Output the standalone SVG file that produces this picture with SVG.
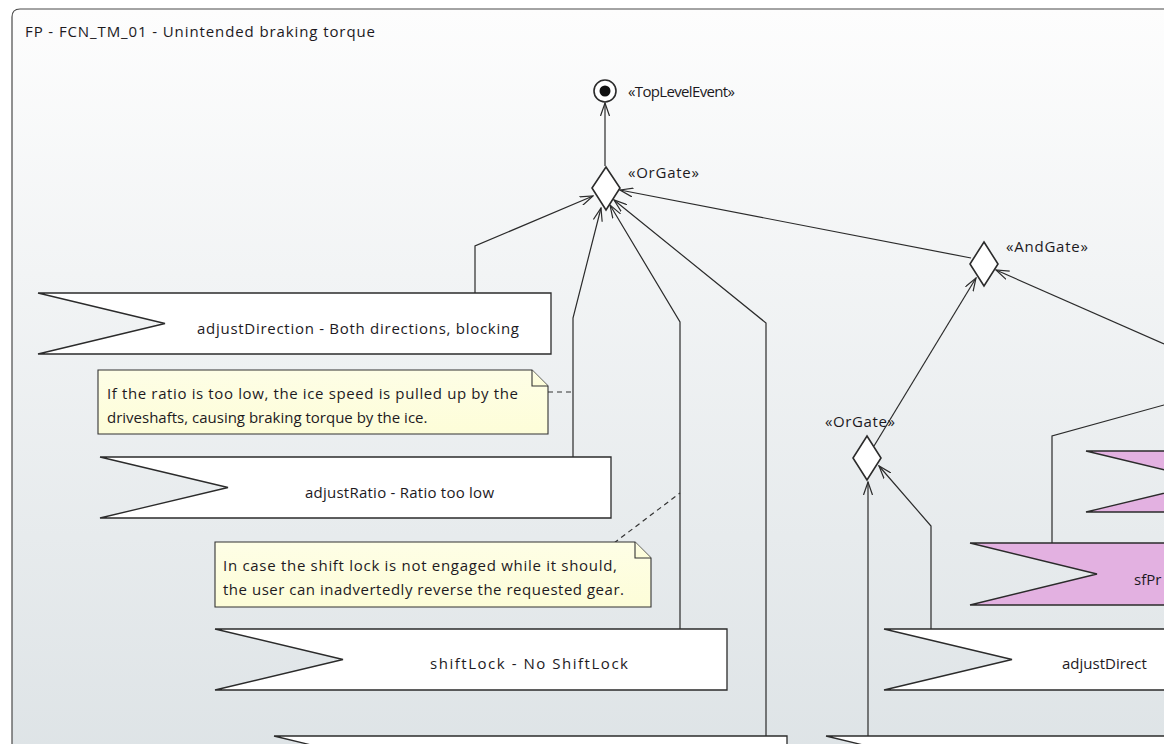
<svg xmlns="http://www.w3.org/2000/svg" width="1164" height="744" viewBox="0 0 1164 744">
  <defs>
    <linearGradient id="bg" x1="0" y1="0" x2="0" y2="1">
      <stop offset="0" stop-color="#fdfdfd"/>
      <stop offset="1" stop-color="#dce2e5"/>
    </linearGradient>
    <linearGradient id="noteFill" x1="0" y1="0" x2="0" y2="1">
      <stop offset="0" stop-color="#fefee6"/>
      <stop offset="1" stop-color="#fdfdd8"/>
    </linearGradient>
    <marker id="open" viewBox="0 0 14 10" refX="13" refY="5" markerWidth="14" markerHeight="10" markerUnits="userSpaceOnUse" orient="auto">
      <path d="M0,0.5 L13,5 L0,9.5" fill="none" stroke="#2b2b2b" stroke-width="1.2"/>
    </marker>
    <style>
      text { font-family: "Open Sans", "DejaVu Sans", sans-serif; font-size: 15px; fill: #1d1a1e; }
      .flag { fill: #ffffff; stroke: #2b2b2b; stroke-width: 1.3; }
      .flag.pink { fill: #e3b1e1; }
      .gate { fill: #ffffff; stroke: #2b2b2b; stroke-width: 1.6; }
      .note { fill: url(#noteFill); stroke: #333333; stroke-width: 1.1; }
      .conn { fill: none; stroke: #2b2b2b; stroke-width: 1.2; }
      .arrow { marker-end: url(#open); }
      .dash { fill: none; stroke: #333333; stroke-width: 1.2; stroke-dasharray: 5 4; }
    </style>
  </defs>

  <!-- canvas and diagram frame -->
  <rect x="0" y="0" width="1164" height="744" fill="#ffffff"/>
  <path d="M12,800 V17 Q12,9 20,9 H1200 V800 Z" fill="url(#bg)" stroke="#4a4a4a" stroke-width="1.2"/>
  <text id="title" x="25" y="37" textLength="350">FP - FCN_TM_01 - Unintended braking torque</text>

  <!-- connectors -->
  <g id="connectors">
    <path class="conn arrow" d="M605,166 V103"/>
    <path class="conn arrow" d="M475,293 V246 L593,196"/>
    <path class="conn arrow" d="M573,457 V318 L601,208"/>
    <path class="conn arrow" d="M680,629 V322 L610,205"/>
    <path class="conn arrow" d="M766,736 V323 L614,200"/>
    <path class="conn arrow" d="M971,258 L620,190"/>
    <path class="conn arrow" d="M874,446 L976,278"/>
    <path class="conn arrow" d="M1164,344 L996,270"/>
    <path class="conn" d="M1052,543 V436 L1164,405"/>
    <path class="conn arrow" d="M931,629 V526 L879,466"/>
    <path class="conn arrow" d="M868,736 V482"/>
    <path class="dash" d="M548,392 H573"/>
    <path class="dash" d="M614,543 L680,493"/>
  </g>

  <!-- top level event -->
  <g id="topLevelEvent">
    <circle cx="605" cy="91" r="11" fill="#ffffff" stroke="#2b2b2b" stroke-width="1.6"/>
    <circle cx="605" cy="91" r="5.5" fill="#111111"/>
    <text x="628" y="97" textLength="107">«TopLevelEvent»</text>
  </g>

  <!-- gates -->
  <g id="orGate1">
    <path class="gate" d="M606,167 L620,188 L606,210 L592,188 Z"/>
    <text x="628" y="178" textLength="71">«OrGate»</text>
  </g>
  <g id="andGate">
    <path class="gate" d="M984,242 L998,264 L984,286 L970,264 Z"/>
    <text x="1006" y="252" textLength="82">«AndGate»</text>
  </g>
  <g id="orGate2">
    <path class="gate" d="M867,436 L881,458 L867,480 L853,458 Z"/>
    <text x="825" y="427" textLength="70">«OrGate»</text>
  </g>

  <!-- basic events -->
  <g id="evAdjustDirection">
    <path class="flag" d="M38,293 H551 V354 H38 L165,323.5 Z"/>
    <text x="197" y="334" textLength="322">adjustDirection - Both directions, blocking</text>
  </g>
  <g id="evAdjustRatio">
    <path class="flag" d="M100,457 H611 V518 H100 L228,487.5 Z"/>
    <text x="305" y="498" textLength="189">adjustRatio - Ratio too low</text>
  </g>
  <g id="evShiftLock">
    <path class="flag" d="M215,629 H727 V690 H215 L343,659.5 Z"/>
    <text x="430" y="669" textLength="198">shiftLock - No ShiftLock</text>
  </g>
  <g id="evBottomLeft">
    <path class="flag" d="M274,736 H787 V800 H274 L402,767 Z"/>
  </g>
  <g id="evBottomRight">
    <path class="flag" d="M826,736 H1300 V800 H826 L954,767 Z"/>
  </g>
  <g id="evAdjustDirection2">
    <path class="flag" d="M884,629 H1300 V690 H884 L1012,659.5 Z"/>
    <text x="1062" y="669">adjustDirect</text>
  </g>
  <g id="evSfPr">
    <path class="flag pink" d="M970,543 H1300 V605 H970 L1097,574 Z"/>
    <text x="1134" y="585">sfPr</text>
  </g>
  <g id="evPinkTop">
    <path class="flag pink" d="M1086,451 H1400 V512 H1086 L1213,481.5 Z"/>
  </g>

  <!-- comments -->
  <g id="noteRatio">
    <path class="note" d="M98,370 H532 L548,386 V434 H98 Z"/>
    <path class="note" d="M532,370 V386 H548" fill="none"/>
    <text x="107" y="399" textLength="411">If the ratio is too low, the ice speed is pulled up by the</text>
    <text x="107" y="423">driveshafts, causing braking torque by the ice.</text>
  </g>
  <g id="noteShiftLock">
    <path class="note" d="M215,542 H635 L651,558 V607 H215 Z"/>
    <path class="note" d="M635,542 V558 H651" fill="none"/>
    <text x="223" y="571" textLength="394">In case the shift lock is not engaged while it should,</text>
    <text x="223" y="595" textLength="401">the user can inadvertedly reverse the requested gear.</text>
  </g>
</svg>
